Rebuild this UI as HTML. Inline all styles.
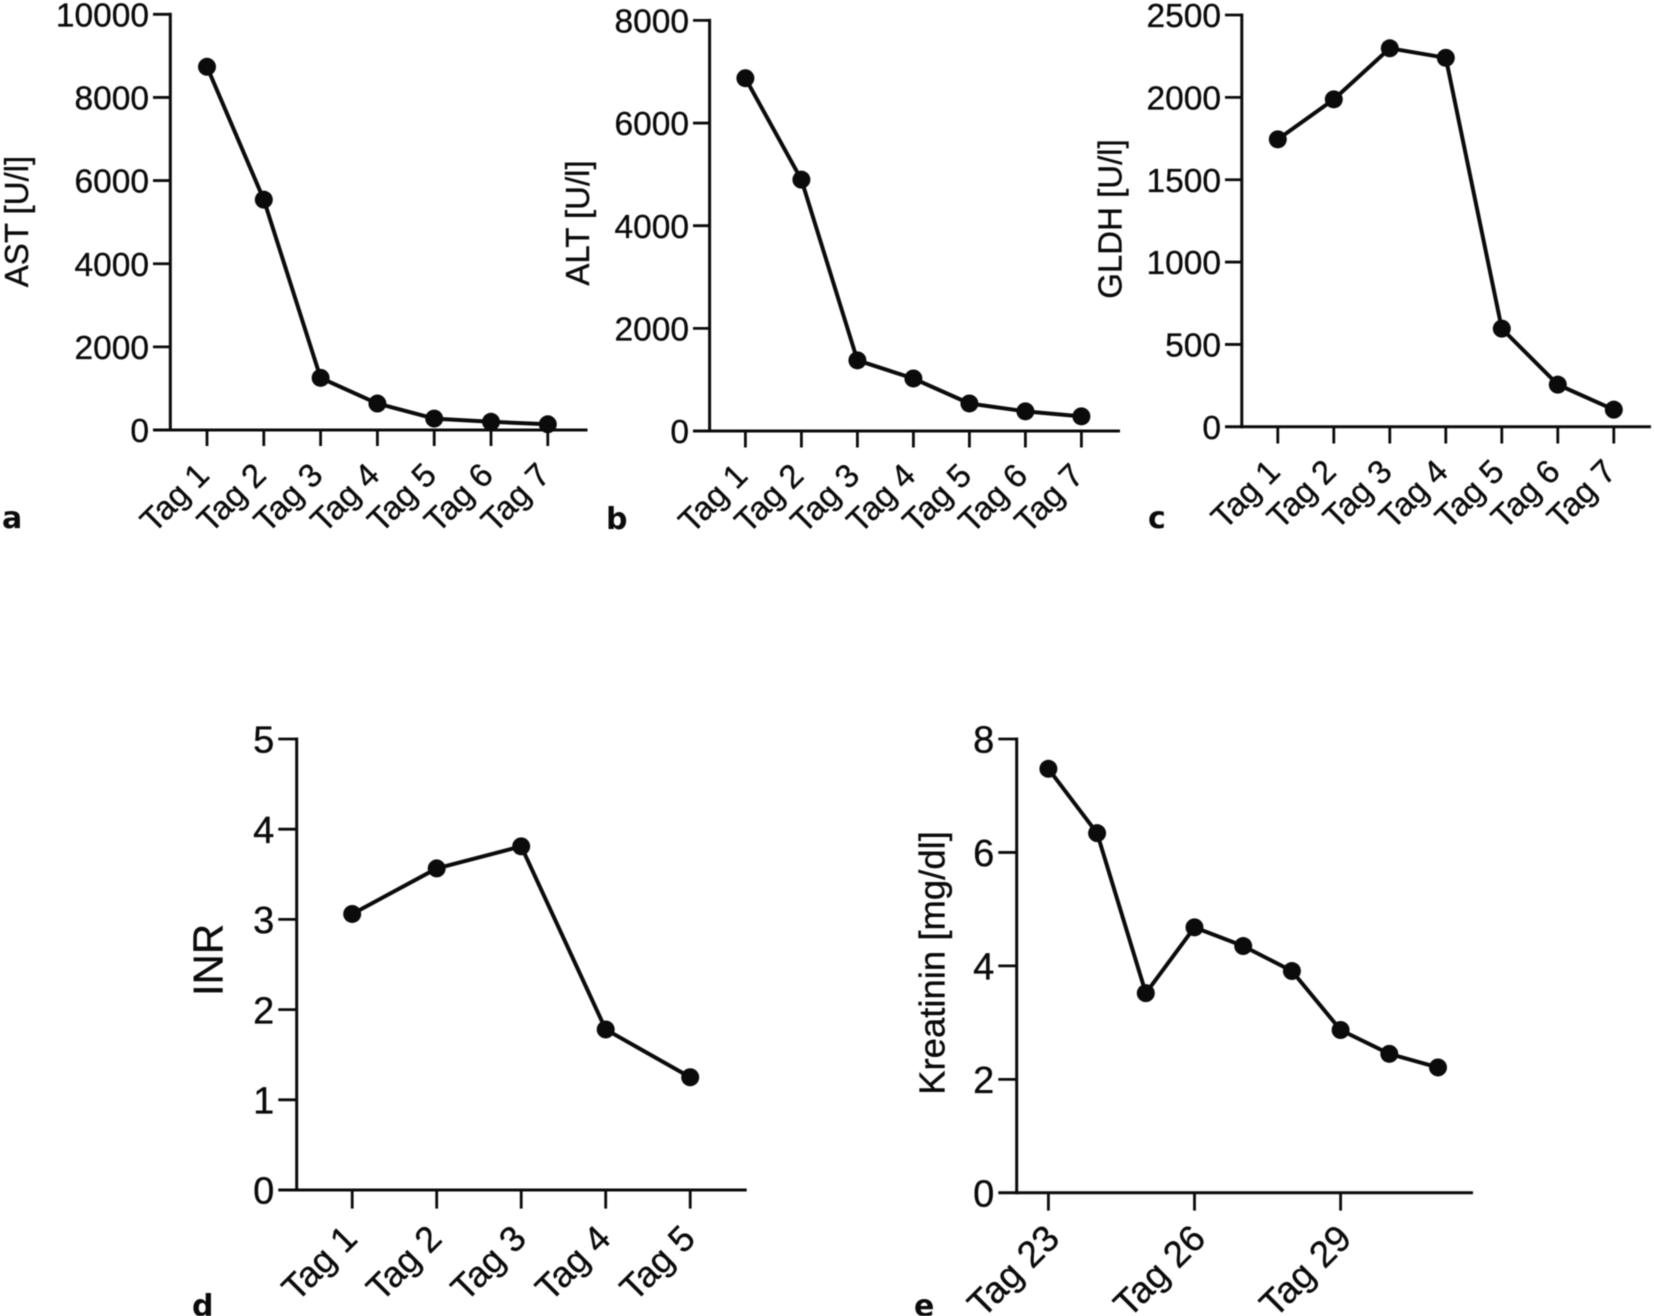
<!DOCTYPE html>
<html lang="de">
<head>
<meta charset="utf-8">
<title>Laborverlauf</title>
<style>
html,body{margin:0;padding:0;background:#fff;width:1654px;height:1316px;overflow:hidden}
svg{display:block;filter:blur(0.4px)}
text{font-family:"Liberation Sans",Arial,sans-serif;fill:#0b0b0b;stroke:#0b0b0b;stroke-width:0.35px}
.letter{font-family:"DejaVu Sans","Liberation Sans",sans-serif;font-weight:700;stroke:none}
</style>
</head>
<body>
<svg id="figure" xmlns="http://www.w3.org/2000/svg" width="1654" height="1316" viewBox="0 0 1654 1316"></svg>
<script>
const dayLabels7 = ["Tag 1", "Tag 2", "Tag 3", "Tag 4", "Tag 5", "Tag 6", "Tag 7"];
const dayLabels5 = ["Tag 1", "Tag 2", "Tag 3", "Tag 4", "Tag 5"];
const dayLabelsKreatinin = ["Tag 23", "", "", "Tag 26", "", "", "Tag 29", "", ""];

const astValues = [8737, 5541, 1254, 636, 275, 198, 137];
const altValues = [6873, 4897, 1377, 1023, 536, 383, 285];
const gldhValues = [1745, 1988, 2298, 2240, 596, 256, 104];
const inrValues = [3.06, 3.565, 3.81, 1.78, 1.25];
const kreatininValues = [7.475, 6.34, 3.52, 4.68, 4.35, 3.91, 2.87, 2.45, 2.21];

const astTicks = [0, 2000, 4000, 6000, 8000, 10000];
const altTicks = [0, 2000, 4000, 6000, 8000];
const gldhTicks = [0, 500, 1000, 1500, 2000, 2500];
const inrTicks = [0, 1, 2, 3, 4, 5];
const kreatininTicks = [0, 2, 4, 6, 8];

const NS = "http://www.w3.org/2000/svg";
const root = document.getElementById("figure");

function make(parent, tag, attrs) {
  const el = document.createElementNS(NS, tag);
  for (const k in attrs) el.setAttribute(k, attrs[k]);
  parent.appendChild(el);
  return el;
}

function drawPanel(p) {
  const g = make(root, "g", {});
  
  

  const xAxis = i => p.xFirst + i * p.xStep;
  const yMax = p.ticks[p.ticks.length - 1];
  const yAxis = v => p.y0 - (v / yMax) * (p.y0 - p.yTop);

  const yLine = make(g, "line", {x1: p.axisX, x2: p.axisX, y1: p.yTop - 1.5, y2: p.y0 + 1.5, stroke: "#0b0b0b", "stroke-width": 3});
  
  

  const xLine = make(g, "line", {x1: p.tickLeft, x2: p.xEnd, y1: p.y0, y2: p.y0, stroke: "#0b0b0b", "stroke-width": 3});
  
  

  p.ticks.forEach(v => {
    const y = yAxis(v);
    if (v !== 0) {
      const t = make(g, "line", {x1: p.tickLeft, x2: p.axisX, y1: y, y2: y, stroke: "#0b0b0b", "stroke-width": 2.8});
      
      
    }
    const lab = make(g, "text", {x: p.tickLeft - 4, y: y + p.tickFont * 0.36, "text-anchor": "end", "font-size": p.tickFont});
    lab.textContent = String(v);
    
    
  });

  p.labels.forEach((name, i) => {
    if (!name) return;
    const x = xAxis(i);
    const t = make(g, "line", {x1: x, x2: x, y1: p.y0, y2: p.tickBottom, stroke: "#0b0b0b", "stroke-width": 2.8});
    
    
    const lab = make(g, "text", {"text-anchor": "end", "font-size": p.labelFont,
      transform: "translate(" + (x + p.labelDx) + "," + (p.tickBottom + p.labelDy) + ") rotate(-45)"});
    lab.textContent = name;
    
    
  });

  const pts = p.values.map((v, i) => xAxis(i) + "," + yAxis(v)).join(" ");
  const line = make(g, "polyline", {points: pts, fill: "none", stroke: "#0b0b0b", "stroke-width": 4, "stroke-linejoin": "round"});
  
  

  p.values.forEach((v, i) => {
    const c = make(g, "circle", {cx: xAxis(i), cy: yAxis(v), r: 9, fill: "#0b0b0b"});
    
    
  });

  const title = make(g, "text", {"text-anchor": "middle", "font-size": p.titleFont,
    transform: "translate(" + p.titleX + "," + p.titleY + ") rotate(-90)", "dominant-baseline": "central"});
  title.textContent = p.title;
  
  

  const letter = make(g, "text", {"class": "letter", x: p.letterX, y: p.letterY, "font-size": 30});
  letter.textContent = p.letter;
  
  
}

drawPanel({id: "ast", letter: "a", title: "AST [U/l]", labels: dayLabels7, values: astValues, ticks: astTicks,
  axisX: 170.3, tickLeft: 153, xEnd: 587.5, yTop: 14.3, y0: 430, tickBottom: 446,
  xFirst: 207, xStep: 56.8, tickFont: 33.5, labelFont: 33, labelDx: 4, labelDy: 31,
  titleFont: 33, titleX: 16.5, titleY: 221.5, letterX: 2, letterY: 528});

drawPanel({id: "alt", letter: "b", title: "ALT [U/l]", labels: dayLabels7, values: altValues, ticks: altTicks,
  axisX: 709.6, tickLeft: 693, xEnd: 1120, yTop: 20.4, y0: 431, tickBottom: 447.5,
  xFirst: 745.4, xStep: 56, tickFont: 33.5, labelFont: 33, labelDx: 4, labelDy: 30,
  titleFont: 33, titleX: 577.5, titleY: 223, letterX: 606, letterY: 529});

drawPanel({id: "gldh", letter: "c", title: "GLDH [U/l]", labels: dayLabels7, values: gldhValues, ticks: gldhTicks,
  axisX: 1241.8, tickLeft: 1225, xEnd: 1651, yTop: 15, y0: 426.8, tickBottom: 443.5,
  xFirst: 1277.8, xStep: 56, tickFont: 33.5, labelFont: 33, labelDx: 4, labelDy: 30,
  titleFont: 33, titleX: 1110, titleY: 219, letterX: 1148, letterY: 528});

drawPanel({id: "inr", letter: "d", title: "INR", labels: dayLabels5, values: inrValues, ticks: inrTicks,
  axisX: 296.7, tickLeft: 278.3, xEnd: 746.7, yTop: 739, y0: 1190, tickBottom: 1208.6,
  xFirst: 352.2, xStep: 84.5, tickFont: 38, labelFont: 36, labelDx: 7, labelDy: 32,
  titleFont: 42, titleX: 208, titleY: 960, letterX: 192, letterY: 1316});

drawPanel({id: "kreatinin", letter: "e", title: "Kreatinin [mg/dl]", labels: dayLabelsKreatinin, values: kreatininValues, ticks: kreatininTicks,
  axisX: 1016.7, tickLeft: 998.3, xEnd: 1473, yTop: 739, y0: 1192.8, tickBottom: 1210.6,
  xFirst: 1048.4, xStep: 48.7, tickFont: 38, labelFont: 37, labelDx: 13, labelDy: 30,
  titleFont: 36.5, titleX: 932, titleY: 963, letterX: 914, letterY: 1316});
</script>
</body>
</html>
